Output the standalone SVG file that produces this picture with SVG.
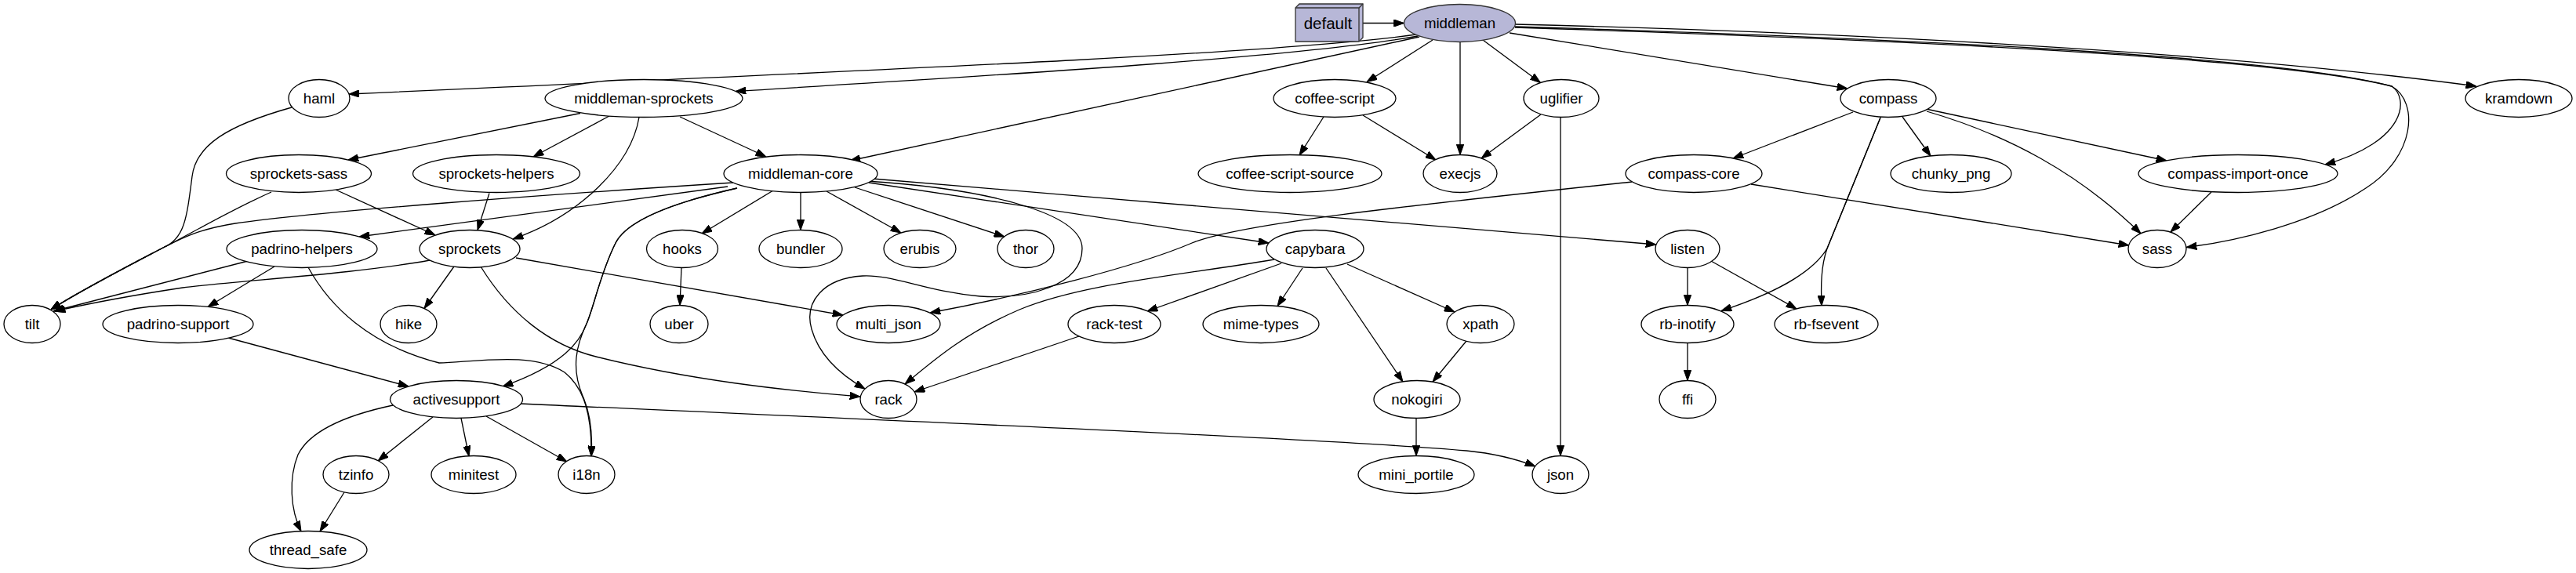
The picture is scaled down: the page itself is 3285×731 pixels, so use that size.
<svg xmlns="http://www.w3.org/2000/svg" width="3285" height="731" viewBox="0 0 3285 731">
<style>
.e{fill:#fff;stroke:#000;stroke-width:1.3}
.t{font-family:"Liberation Sans",Arial,sans-serif;font-size:18.67px;text-anchor:middle;fill:#000}
.c path{fill:none;stroke:#000;stroke-width:1.3;marker-end:url(#ah)}
.hl{fill:#b7b7d7;stroke:#333;stroke-width:1.3}
</style>
<defs>
<marker id="ah" markerUnits="userSpaceOnUse" viewBox="0 0 13.3 9.4" refX="13.3" refY="4.7" markerWidth="13.3" markerHeight="9.4" orient="auto"><path d="M0,0 L13.3,4.7 L0,9.4 z" fill="#000" stroke="#000" stroke-width="1"/></marker>
</defs>
<rect width="3285" height="731" fill="#fff"/>
<g id="connectors" class="c">
<path d="M1738,29.5 L1790.5,29.5"/>
<path d="M1806,44 C1650,66 1250,84 445,120"/>
<path d="M1808,46 C1650,75 1200,100 938,116.5"/>
<path d="M1810,47 L1084,205"/>
<path d="M1827,51 L1743,104.5"/>
<path d="M1862,53.5 L1862,197.5"/>
<path d="M1891,51 L1964.5,105.5"/>
<path d="M1925,42 L2356,113"/>
<path d="M1932,31 C2300,40 2800,62 3158,110"/>
<path d="M1932,34 C2400,48 2900,70 3050,110 C3072,125 3070,180 2965,210"/>
<path d="M1932,35 C2400,50 2900,72 3050,110 C3085,130 3080,200 3017,240 C2950,285 2850,308 2788,315.5"/>
<path d="M372,137 C290,160 250,185 245,225 C238,280 235,305 208,316 C170,336 100,372 65,395"/>
<path d="M346,245 C290,270 240,300 208,316 C170,336 100,372 65,395"/>
<path d="M935,233 C700,248 400,270 300,285 C250,293 230,305 208,316 C170,336 100,372 65,395"/>
<path d="M928,238 L458,302"/>
<path d="M316,333 L68,397"/>
<path d="M548,332 C450,350 300,358 233,367 C180,375 110,388 70,397"/>
<path d="M350,340 L265,391.5"/>
<path d="M393,341 C420,390 470,440 560,463 C620,460 680,450 720,475 C745,495 755,530 754,582"/>
<path d="M940,240 C860,258 800,280 785,310 C765,350 758,390 748,413 C735,440 728,470 743,505 C752,525 756,550 754,582"/>
<path d="M940,240 C860,258 800,280 785,310 C765,350 758,390 748,413 C740,435 720,465 641,493"/>
<path d="M740,144.5 L444,204"/>
<path d="M777,148 L680,200"/>
<path d="M867,149 L977,200"/>
<path d="M815,149.5 C805,210 740,275 654,305"/>
<path d="M624,246.5 L609,293.5"/>
<path d="M428,242 L555,300"/>
<path d="M579,340 L541,393.5"/>
<path d="M658,329 L1075,402"/>
<path d="M613,340 C650,400 700,440 760,455 C880,485 1000,498 1097,506"/>
<path d="M869,341.5 L867,389.5"/>
<path d="M986,243 L895,298"/>
<path d="M1021,245.5 L1021,293.5"/>
<path d="M1054,244 L1149,297"/>
<path d="M1090,239 L1281,302"/>
<path d="M1108,233 L1618,310"/>
<path d="M1113,228 L2112,312"/>
<path d="M1105,231 C1250,240 1380,270 1380,317 C1380,365 1310,382 1250,378 C1180,372 1140,350 1100,352 C1050,355 1025,385 1035,420 C1045,455 1075,480 1103,496"/>
<path d="M2081,232 C1800,262 1580,285 1520,310 C1450,340 1300,378 1186,399"/>
<path d="M1625,331 C1500,352 1380,362 1300,395 C1230,425 1190,460 1154,490"/>
<path d="M1634,336 L1463,397"/>
<path d="M1661,342 L1629,390.5"/>
<path d="M1691,342 L1789,487"/>
<path d="M1718,337 L1855,398"/>
<path d="M1870,435 L1827,487"/>
<path d="M1806,533.5 L1806,581.5"/>
<path d="M1376,429 L1166,500"/>
<path d="M1965,146 L1889,202"/>
<path d="M1990,149.5 L1990,581.5"/>
<path d="M1688,149 L1657,198"/>
<path d="M1738,147 L1831,204"/>
<path d="M664,515 C1100,535 1700,560 1870,575 C1910,579 1935,586 1958,595"/>
<path d="M620,531 L723,589"/>
<path d="M588,533.5 L598,582"/>
<path d="M552,532 L482,588"/>
<path d="M501,517 C440,530 395,550 380,580 C368,610 370,650 384,678"/>
<path d="M439,628 L408,678"/>
<path d="M291,431 L521,493"/>
<path d="M2363,143 L2210,202"/>
<path d="M2426,149 L2462,199"/>
<path d="M2457,142 C2560,172 2650,220 2730,298"/>
<path d="M2456,139 L2763,205"/>
<path d="M2398,150 L2330,317 C2322,340 2322,365 2323,390"/>
<path d="M2398,150 L2330,317 C2310,350 2260,375 2195,396.5"/>
<path d="M2233,235 L2715,313"/>
<path d="M2152,341.5 L2152,389.5"/>
<path d="M2182,333 L2291,394"/>
<path d="M2152,437.5 L2152,485.5"/>
<path d="M2820,245 L2768,296"/>
</g>
<g id="default"><polygon class="hl" points="1652,10 1657,5 1738,5 1738,48 1733,53 1652,53"/><polyline points="1652,10 1733,10 1738,5" fill="none" stroke="#333" stroke-width="1.3"/><line x1="1733" y1="10" x2="1733" y2="53" stroke="#333" stroke-width="1.3"/><text class="t" x="1693.5" y="37" style="font-size:20.5px">default</text></g>
<g id="middleman"><ellipse class="hl" cx="1861.5" cy="29.5" rx="71" ry="24"/><text class="t" x="1861.5" y="36">middleman</text></g>
<g id="haml"><ellipse class="e" cx="407" cy="125.5" rx="39" ry="24"/><text class="t" x="407" y="132">haml</text></g>
<g id="middleman-sprockets"><ellipse class="e" cx="821" cy="125.5" rx="126" ry="24"/><text class="t" x="821" y="132">middleman-sprockets</text></g>
<g id="coffee-script"><ellipse class="e" cx="1702" cy="125.5" rx="78" ry="24"/><text class="t" x="1702" y="132">coffee-script</text></g>
<g id="uglifier"><ellipse class="e" cx="1991" cy="125.5" rx="48" ry="24"/><text class="t" x="1991" y="132">uglifier</text></g>
<g id="compass"><ellipse class="e" cx="2408" cy="125.5" rx="61" ry="24"/><text class="t" x="2408" y="132">compass</text></g>
<g id="kramdown"><ellipse class="e" cx="3212" cy="125.5" rx="68" ry="24"/><text class="t" x="3212" y="132">kramdown</text></g>
<g id="sprockets-sass"><ellipse class="e" cx="381" cy="221.5" rx="92.5" ry="24"/><text class="t" x="381" y="228">sprockets-sass</text></g>
<g id="sprockets-helpers"><ellipse class="e" cx="633" cy="221.5" rx="106.5" ry="24"/><text class="t" x="633" y="228">sprockets-helpers</text></g>
<g id="middleman-core"><ellipse class="e" cx="1021" cy="221.5" rx="98" ry="24"/><text class="t" x="1021" y="228">middleman-core</text></g>
<g id="coffee-script-source"><ellipse class="e" cx="1645" cy="221.5" rx="117" ry="24"/><text class="t" x="1645" y="228">coffee-script-source</text></g>
<g id="execjs"><ellipse class="e" cx="1862" cy="221.5" rx="47" ry="24"/><text class="t" x="1862" y="228">execjs</text></g>
<g id="compass-core"><ellipse class="e" cx="2160" cy="221.5" rx="87" ry="24"/><text class="t" x="2160" y="228">compass-core</text></g>
<g id="chunky_png"><ellipse class="e" cx="2488" cy="221.5" rx="77" ry="24"/><text class="t" x="2488" y="228">chunky_png</text></g>
<g id="compass-import-once"><ellipse class="e" cx="2854" cy="221.5" rx="127" ry="24"/><text class="t" x="2854" y="228">compass-import-once</text></g>
<g id="padrino-helpers"><ellipse class="e" cx="385" cy="317.5" rx="96" ry="24"/><text class="t" x="385" y="324">padrino-helpers</text></g>
<g id="sprockets"><ellipse class="e" cx="599" cy="317.5" rx="64" ry="24"/><text class="t" x="599" y="324">sprockets</text></g>
<g id="hooks"><ellipse class="e" cx="870" cy="317.5" rx="45.5" ry="24"/><text class="t" x="870" y="324">hooks</text></g>
<g id="bundler"><ellipse class="e" cx="1021" cy="317.5" rx="53" ry="24"/><text class="t" x="1021" y="324">bundler</text></g>
<g id="erubis"><ellipse class="e" cx="1173" cy="317.5" rx="46" ry="24"/><text class="t" x="1173" y="324">erubis</text></g>
<g id="thor"><ellipse class="e" cx="1308" cy="317.5" rx="36" ry="24"/><text class="t" x="1308" y="324">thor</text></g>
<g id="capybara"><ellipse class="e" cx="1677" cy="317.5" rx="62" ry="24"/><text class="t" x="1677" y="324">capybara</text></g>
<g id="listen"><ellipse class="e" cx="2152" cy="317.5" rx="41" ry="24"/><text class="t" x="2152" y="324">listen</text></g>
<g id="sass"><ellipse class="e" cx="2751" cy="317.5" rx="37" ry="24"/><text class="t" x="2751" y="324">sass</text></g>
<g id="tilt"><ellipse class="e" cx="41" cy="413.5" rx="36" ry="24"/><text class="t" x="41" y="420">tilt</text></g>
<g id="padrino-support"><ellipse class="e" cx="227" cy="413.5" rx="96" ry="24"/><text class="t" x="227" y="420">padrino-support</text></g>
<g id="hike"><ellipse class="e" cx="521" cy="413.5" rx="36" ry="24"/><text class="t" x="521" y="420">hike</text></g>
<g id="uber"><ellipse class="e" cx="866" cy="413.5" rx="37" ry="24"/><text class="t" x="866" y="420">uber</text></g>
<g id="multi_json"><ellipse class="e" cx="1133" cy="413.5" rx="66" ry="24"/><text class="t" x="1133" y="420">multi_json</text></g>
<g id="rack-test"><ellipse class="e" cx="1421" cy="413.5" rx="59" ry="24"/><text class="t" x="1421" y="420">rack-test</text></g>
<g id="mime-types"><ellipse class="e" cx="1608" cy="413.5" rx="74" ry="24"/><text class="t" x="1608" y="420">mime-types</text></g>
<g id="xpath"><ellipse class="e" cx="1888" cy="413.5" rx="43" ry="24"/><text class="t" x="1888" y="420">xpath</text></g>
<g id="rb-inotify"><ellipse class="e" cx="2152" cy="413.5" rx="59" ry="24"/><text class="t" x="2152" y="420">rb-inotify</text></g>
<g id="rb-fsevent"><ellipse class="e" cx="2329" cy="413.5" rx="66" ry="24"/><text class="t" x="2329" y="420">rb-fsevent</text></g>
<g id="activesupport"><ellipse class="e" cx="582" cy="509.5" rx="84.5" ry="24"/><text class="t" x="582" y="516">activesupport</text></g>
<g id="rack"><ellipse class="e" cx="1133" cy="509.5" rx="36" ry="24"/><text class="t" x="1133" y="516">rack</text></g>
<g id="nokogiri"><ellipse class="e" cx="1807" cy="509.5" rx="55" ry="24"/><text class="t" x="1807" y="516">nokogiri</text></g>
<g id="ffi"><ellipse class="e" cx="2152" cy="509.5" rx="36" ry="24"/><text class="t" x="2152" y="516">ffi</text></g>
<g id="tzinfo"><ellipse class="e" cx="454" cy="605.5" rx="42" ry="24"/><text class="t" x="454" y="612">tzinfo</text></g>
<g id="minitest"><ellipse class="e" cx="604" cy="605.5" rx="54" ry="24"/><text class="t" x="604" y="612">minitest</text></g>
<g id="i18n"><ellipse class="e" cx="748" cy="605.5" rx="36" ry="24"/><text class="t" x="748" y="612">i18n</text></g>
<g id="mini_portile"><ellipse class="e" cx="1806" cy="605.5" rx="74" ry="24"/><text class="t" x="1806" y="612">mini_portile</text></g>
<g id="json"><ellipse class="e" cx="1990" cy="605.5" rx="36" ry="24"/><text class="t" x="1990" y="612">json</text></g>
<g id="thread_safe"><ellipse class="e" cx="393" cy="701.5" rx="75" ry="24"/><text class="t" x="393" y="708">thread_safe</text></g>
</svg>
